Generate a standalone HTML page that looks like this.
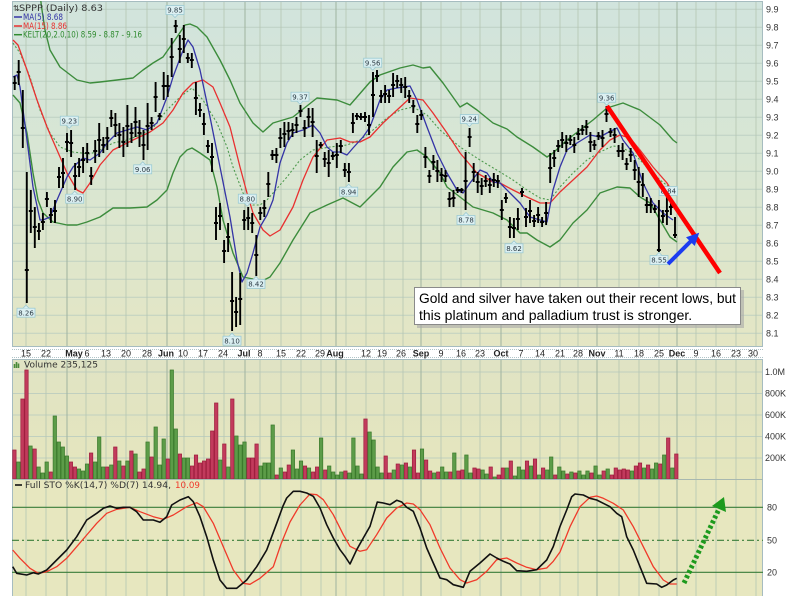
<!DOCTYPE html>
<html><head><meta charset="utf-8"><style>html,body{margin:0;padding:0;background:#fff}svg{display:block}</style></head>
<body>
<svg width="800" height="596" viewBox="0 0 800 596" xmlns="http://www.w3.org/2000/svg">
<defs>
<linearGradient id="gp" x1="0" y1="0" x2="0" y2="1"><stop offset="0" stop-color="#d1e4dd"/><stop offset="0.5" stop-color="#d9e6d2"/><stop offset="1" stop-color="#e4e6c4"/></linearGradient>
<linearGradient id="gv" x1="0" y1="0" x2="0" y2="1"><stop offset="0" stop-color="#e0e3c4"/><stop offset="1" stop-color="#e5e6bd"/></linearGradient>
<clipPath id="cp"><rect x="12" y="1" width="751" height="346"/></clipPath>
</defs>
<rect width="800" height="596" fill="#fff"/>
<rect x="12" y="1" width="751" height="346" fill="url(#gp)"/>
<rect x="12" y="359" width="751" height="121" fill="url(#gv)"/>
<rect x="12" y="480" width="751" height="116" fill="#e7e7bf"/>
<!-- horizontal gridlines price -->
<g stroke="#b8cbbf" stroke-width="1" opacity="0.8">
<path d="M12 9.3H763M12 27.3H763M12 45.3H763M12 63.3H763M12 81.3H763M12 99.3H763M12 117.3H763M12 135.3H763M12 153.3H763M12 171.3H763M12 189.3H763M12 207.3H763M12 225.3H763M12 243.3H763M12 261.3H763M12 279.3H763M12 297.3H763M12 315.3H763M12 333.3H763"/>
<path d="M12 372H763M12 393.5H763M12 415H763M12 436.5H763M12 458H763"/>
</g>
<!-- vertical gridlines -->
<g stroke="#b5c6b2" stroke-width="1" opacity="0.8">
<path d="M26 1V347M46 1V347M86 1V347M106 1V347M126 1V347M147 1V347M184 1V347M204 1V347M224 1V347M260 1V347M281 1V347M301 1V347M321 1V347M346 1V347M366 1V347M384 1V347M403 1V347M441 1V347M461 1V347M480 1V347M521 1V347M540 1V347M560 1V347M578 1V347M619 1V347M639 1V347M659 1V347M696 1V347M716 1V347M736 1V347M756 1V347"/>
<path d="M26 359V596M46 359V596M86 359V596M106 359V596M126 359V596M147 359V596M184 359V596M204 359V596M224 359V596M260 359V596M281 359V596M301 359V596M321 359V596M346 359V596M366 359V596M384 359V596M403 359V596M441 359V596M461 359V596M480 359V596M521 359V596M540 359V596M560 359V596M578 359V596M619 359V596M639 359V596M659 359V596M696 359V596M716 359V596M736 359V596M756 359V596"/>
</g>
<g stroke="#9fb39f" stroke-width="1">
<path d="M67 1V347M167 1V347M245 1V347M336 1V347M421 1V347M501 1V347M597 1V347M677 1V347"/>
<path d="M67 359V596M167 359V596M245 359V596M336 359V596M421 359V596M501 359V596M597 359V596M677 359V596"/>
</g>
<!-- panel borders -->
<g fill="none" stroke="#a6bcc0" stroke-width="1">
<rect x="12.5" y="1.5" width="750" height="345"/>
<rect x="12.5" y="359.5" width="750" height="120"/>
<path d="M12.5 480V596M762.5 480V596"/>
</g>
<path d="M12 349.5H763M12 357.5H763" stroke="#b0c4c8" stroke-dasharray="1,1"/>

<!-- price series -->
<g clip-path="url(#cp)" fill="none" stroke-linejoin="round">
<polyline stroke="#3c8c3c" stroke-width="1.4" points="40,-5 42,10 45,30 50,50 60,67 77,80 90,83 100,82 117,80 133,78 143,70 153,63 163,57 170,47 177,37 185,25 190,24 197,27 207,37 220,60 230,80 240,103 253,123 263,132 273,123 293,117 317,98 337,100 350,105 357,97 370,82 380,75 400,68 413,65 423,68 430,67 443,83 460,107 467,103 477,110 493,123 507,129 517,137 533,147 547,157 553,153 567,140 580,130 593,120 607,108 623,103 640,110 660,125 673,140 677,143"/>
<polyline stroke="#3c8c3c" stroke-width="1.4" points="13,95 20,103 27,133 33,173 38,200 43,213 53,222 67,225 77,225 87,222 100,217 113,208 130,208 147,207 157,200 167,190 173,173 180,157 187,150 192,148 200,153 210,160 217,187 223,220 233,253 243,277 253,279 262,281 270,277 280,263 293,240 310,213 327,205 343,198 360,207 367,200 380,187 393,167 407,152 417,150 427,157 440,173 447,187 460,197 473,207 493,213 507,220 520,233 527,233 537,240 550,247 560,240 573,223 587,210 600,193 617,187 630,188 640,197 650,203 660,220 670,237 677,242"/>
<polyline stroke="#4f9a4f" stroke-width="1.1" stroke-dasharray="2,2" points="13,43 20,53 30,77 40,110 50,133 60,147 73,152 90,154 100,150 113,143 127,140 140,135 153,128 167,110 180,97 192,88 203,100 217,123 227,147 233,167 243,193 253,205 260,205 267,200 273,193 287,177 300,160 313,150 330,147 347,145 360,140 373,130 387,118 400,110 413,107 427,115 440,130 460,147 480,160 500,172 513,180 527,190 540,198 550,200 560,187 573,173 587,160 600,152 613,146 620,147 633,153 647,167 660,180 673,190"/>
<polyline stroke="#e83030" stroke-width="1.3" points="13,40 18,45 27,70 37,100 47,127 57,150 67,173 77,190 83,193 90,183 100,165 113,150 133,140 150,132 163,123 173,110 183,93 193,83 203,80 213,87 220,103 230,127 240,167 247,193 253,213 263,230 270,236 280,230 293,207 303,180 313,157 327,140 340,138 350,142 360,142 370,137 383,123 397,110 410,98 423,100 433,113 447,133 460,153 477,173 493,182 500,183 513,190 527,197 540,203 550,203 560,192 573,180 587,167 600,150 610,140 620,135 630,138 640,150 653,167 667,183 673,193"/>
<polyline stroke="#3434a6" stroke-width="1.3" points="13,77 17,75 20,87 27,140 33,187 40,220 43,220 50,217 57,200 67,177 73,167 83,158 90,160 100,153 107,143 117,133 127,130 137,127 147,130 157,123 167,97 173,77 182,53 188,40 193,47 200,70 210,117 220,167 230,217 237,260 242,282 247,273 253,253 260,227 267,215 273,200 280,163 287,143 293,133 303,130 313,125 320,133 327,147 333,152 340,152 347,155 353,148 363,137 370,127 380,100 387,90 397,88 410,86 417,100 427,127 437,153 447,173 457,190 463,193 470,183 480,170 487,173 493,182 500,183 510,193 520,203 530,217 540,220 547,222 553,190 560,167 567,150 577,143 590,135 600,137 607,133 617,128 623,140 633,153 643,183 653,203 663,213 673,220"/>
<path stroke="#000" stroke-width="1.9" d="M14.7 76V90M12.7 83h4M18.7 60V85M16.7 72h4M22.8 90V148M20.8 128h4M26.8 172V303M24.8 270h4M30.8 190V233M28.8 211h4M34.8 207V248M32.8 227h4M38.9 223V240M36.9 231h4M42.9 213V230M40.9 222h4M46.9 192V207M44.9 199h4M50.9 208V223M48.9 215h4M55 200V223M53 211h4M59 167V188M57 177h4M63 158V188M61 173h4M67 133V152M65 142h4M71.1 130V157M69.1 143h4M75.1 163V190M73.1 176h4M79.1 158V177M77.1 167h4M83.1 147V173M81.1 160h4M87.2 143V163M85.2 153h4M91.2 167V185M89.2 176h4M95.2 140V163M93.2 151h4M99.2 123V157M97.2 140h4M103.3 137V153M101.3 145h4M107.3 127V150M105.3 138h4M111.3 110V127M109.3 118h4M115.4 113V137M113.4 125h4M119.4 123V148M117.4 135h4M123.4 127V157M121.4 142h4M127.4 105V147M125.4 126h4M131.5 123V143M129.5 133h4M135.5 107V137M133.5 122h4M139.5 120V147M137.5 133h4M143.5 130V160M141.5 145h4M147.6 103V150M145.6 126h4M151.6 117V130M149.6 123h4M155.6 82V112M153.6 97h4M159.6 113V120M157.6 116h4M163.7 72V100M161.7 86h4M167.7 75V97M165.7 86h4M171.7 38V77M169.7 57h4M175.7 20V33M173.7 26h4M179.8 35V63M177.8 49h4M183.8 25V53M181.8 39h4M187.8 53V63M185.8 58h4M191.8 53V68M189.8 60h4M195.9 82V115M193.9 98h4M199.9 103V117M197.9 110h4M203.9 113V135M201.9 124h4M207.9 140V153M205.9 146h4M212 143V172M210 157h4M216 207V240M214 223h4M220 203V230M218 216h4M224.1 240V263M222.1 251h4M228.1 223V252M226.1 237h4M232.1 272V331M230.1 301h4M236.1 297V327M234.1 312h4M240.2 273V325M238.2 299h4M244.2 210V230M242.2 220h4M248.2 207V230M246.2 218h4M252.2 213V233M250.2 223h4M256.3 235V276M254.3 255h4M260.3 207V220M258.3 213h4M264.3 200V217M262.3 208h4M268.3 172V197M266.3 184h4M272.4 150V160M270.4 155h4M276.4 148V163M274.4 155h4M280.4 128V148M278.4 138h4M284.4 122V147M282.4 134h4M288.5 122V140M286.5 131h4M292.5 123V137M290.5 130h4M296.5 117V133M294.5 125h4M300.5 105V117M298.5 111h4M304.6 120V137M302.6 128h4M308.6 108V127M306.6 117h4M312.6 108V137M310.6 122h4M316.7 140V173M314.7 156h4M320.7 142V148M318.7 145h4M324.7 152V167M322.7 159h4M328.7 150V177M326.7 163h4M332.8 152V160M330.8 156h4M336.8 143V168M334.8 155h4M340.8 140V153M338.8 146h4M344.8 163V177M342.8 170h4M348.9 163V182M346.9 172h4M352.9 113V133M350.9 123h4M356.9 113V120M354.9 116h4M360.9 113V120M358.9 117h4M365 112V122M363 117h4M369 115V135M367 125h4M373 72V117M371 95h4M377 70V82M375 76h4M381.1 90V103M379.1 96h4M385.1 85V103M383.1 94h4M389.1 90V103M387.1 96h4M393.1 73V97M391.1 85h4M397.2 75V88M395.2 81h4M401.2 78V93M399.2 85h4M405.2 77V98M403.2 87h4M409.2 90V103M407.2 96h4M413.3 100V113M411.3 106h4M417.3 115V133M415.3 124h4M421.3 110V120M419.3 115h4M425.4 147V168M423.4 157h4M429.4 170V183M427.4 176h4M433.4 155V170M431.4 162h4M437.4 160V182M435.4 171h4M441.5 168V182M439.5 175h4M445.5 170V182M443.5 176h4M449.5 192V207M447.5 199h4M453.5 190V207M451.5 198h4M457.6 187V193M455.6 190h4M461.6 188V193M459.6 190h4M465.6 152V210M463.6 181h4M469.6 128V147M467.6 137h4M473.7 163V182M471.7 172h4M477.7 172V193M475.7 182h4M481.7 178V195M479.7 186h4M485.7 175V187M483.7 181h4M489.8 178V193M487.8 185h4M493.8 173V187M491.8 180h4M497.8 175V188M495.8 181h4M501.8 200V220M499.8 210h4M505.9 193V203M503.9 198h4M509.9 217V238M507.9 227h4M513.9 218V238M511.9 228h4M517.9 208V230M515.9 219h4M522 188V197M520 192h4M526 208V227M524 217h4M530 200V223M528 211h4M534.1 215V227M532.1 221h4M538.1 207V223M536.1 215h4M542.1 217V227M540.1 222h4M546.1 202V225M544.1 213h4M550.2 153V183M548.2 168h4M554.2 150V167M552.2 158h4M558.2 140V152M556.2 146h4M562.2 132V148M560.2 140h4M566.3 135V152M564.3 143h4M570.3 135V145M568.3 140h4M574.3 137V153M572.3 145h4M578.3 128V140M576.3 134h4M582.4 125V135M580.4 130h4M586.4 120V135M584.4 127h4M590.4 132V152M588.4 142h4M594.4 140V150M592.4 145h4M598.5 132V140M596.5 136h4M602.5 130V147M600.5 138h4M606.5 106V122M604.5 114h4M610.5 128V137M608.5 132h4M614.6 128V143M612.6 135h4M618.6 145V157M616.6 151h4M622.6 143V160M620.6 151h4M626.6 158V170M624.6 164h4M630.7 148V162M628.7 155h4M634.7 160V180M632.7 170h4M638.7 167V197M636.7 182h4M642.8 173V197M640.8 185h4M646.8 197V213M644.8 205h4M650.8 198V213M648.8 205h4M654.8 205V213M652.8 209h4M658.9 200V252M656.9 250h4M662.9 210V223M660.9 216h4M666.9 197V225M664.9 211h4M670.9 200V215M668.9 207h4M675 217V238M673 235h4"/>
</g>

<!-- price tags -->
<g font-family="'DejaVu Sans', 'Liberation Sans', sans-serif" font-size="7" fill="#2b3a44" text-anchor="middle">
<g fill="#dcf0f2" stroke="#9ccad3" stroke-width="0.8">
<rect x="166" y="5.5" width="18" height="9"/><path d="M172 14.5L175 17.5L178 14.5"/>
<rect x="60.3" y="116.2" width="18" height="9"/><path d="M66.3 125.2L69.3 128.2L72.3 125.2"/>
<rect x="65.7" y="194.2" width="18" height="9"/><path d="M71.7 194.2L74.7 191.2L77.7 194.2"/>
<rect x="133.7" y="164.8" width="18" height="9"/><path d="M139.7 164.8L142.7 161.8L145.7 164.8"/>
<rect x="17" y="308.2" width="18" height="9"/><path d="M23 308.2L26 305.2L29 308.2"/>
<rect x="238.3" y="194.2" width="18" height="9"/><path d="M244.3 203.2L247.3 206.2L250.3 203.2"/>
<rect x="247" y="279.5" width="18" height="9"/><path d="M253 279.5L256 276.5L259 279.5"/>
<rect x="223" y="336.2" width="18" height="9"/><path d="M229 336.2L232 333.2L235 336.2"/>
<rect x="291" y="92.2" width="18" height="9"/><path d="M297 101.2L300 104.2L303 101.2"/>
<rect x="363.7" y="58.2" width="18" height="9"/><path d="M369.7 67.2L372.7 70.2L375.7 67.2"/>
<rect x="339.7" y="187.2" width="18" height="9"/><path d="M345.7 187.2L348.7 184.2L351.7 187.2"/>
<rect x="460.3" y="114.5" width="18" height="9"/><path d="M466.3 123.5L469.3 126.5L472.3 123.5"/>
<rect x="457" y="215.5" width="18" height="9"/><path d="M463 215.5L466 212.5L469 215.5"/>
<rect x="505" y="243.8" width="18" height="9"/><path d="M511 243.8L514 240.8L517 243.8"/>
<rect x="597.7" y="93.2" width="18" height="9"/><path d="M603.7 102.2L606.7 105.2L609.7 102.2"/>
<rect x="659.3" y="186.5" width="18" height="9"/><path d="M665.3 195.5L668.3 198.5L671.3 195.5"/>
<rect x="650" y="255.5" width="18" height="9"/><path d="M656 255.5L659 252.5L662 255.5"/>
</g>
<text x="175" y="12.6">9.85</text>
<text x="69.3" y="123.3">9.23</text>
<text x="74.7" y="201.3">8.90</text>
<text x="142.7" y="171.9">9.06</text>
<text x="26" y="315.3">8.26</text>
<text x="247.3" y="201.3">8.80</text>
<text x="256" y="286.6">8.42</text>
<text x="232" y="343.3">8.10</text>
<text x="300" y="99.3">9.37</text>
<text x="372.7" y="65.3">9.56</text>
<text x="348.7" y="194.3">8.94</text>
<text x="469.3" y="121.6">9.24</text>
<text x="466" y="222.6">8.78</text>
<text x="514" y="250.9">8.62</text>
<text x="606.7" y="100.3">9.36</text>
<text x="668.3" y="193.6">8.84</text>
<text x="659" y="262.6">8.55</text>
</g>

<!-- annotations -->
<line x1="607" y1="106" x2="720" y2="273" stroke="#ff0000" stroke-width="4.5"/>
<line x1="668" y1="264" x2="691" y2="241" stroke="#1c3cf0" stroke-width="4"/>
<polygon points="698,234 694.4,244.6 687.4,237.6" fill="#1c3cf0" stroke="#1c3cf0" stroke-width="1.5"/>
<rect x="417" y="290" width="327" height="38" fill="#a9a9a9" opacity="0.6"/>
<rect x="414.5" y="287.5" width="326" height="37" fill="#fff" stroke="#8a8a8a" stroke-width="1"/>
<text x="419" y="303" font-family="'Liberation Sans', Arial, sans-serif" font-size="14" fill="#000" textLength="317" lengthAdjust="spacingAndGlyphs">Gold and silver have taken out their recent lows, but</text>
<text x="419" y="320" font-family="'Liberation Sans', Arial, sans-serif" font-size="14" fill="#000">this platinum and palladium trust is stronger.</text>

<!-- legend -->
<g font-family="'DejaVu Sans', 'Liberation Sans', sans-serif" font-size="8.5">
<text x="13" y="11" font-size="8" fill="#333">⇅</text>
<text x="19" y="11" fill="#333" textLength="84" lengthAdjust="spacingAndGlyphs">SPPP (Daily) 8.63</text>
<path d="M14 17H22" stroke="#3434a6" stroke-width="1.5"/>
<text x="23" y="20" fill="#3434a6" textLength="40" lengthAdjust="spacingAndGlyphs">MA(5) 8.68</text>
<path d="M14 26H22" stroke="#e83030" stroke-width="1.5"/>
<text x="23" y="29" fill="#e83030" textLength="44" lengthAdjust="spacingAndGlyphs">MA(15) 8.86</text>
<path d="M14 34.7H22" stroke="#2f8a2f" stroke-width="1.5"/>
<text x="23" y="37.7" fill="#2f8a2f" textLength="119" lengthAdjust="spacingAndGlyphs">KELT(20,2.0,10) 8.59 - 8.87 - 9.16</text>
</g>

<!-- right price axis -->
<g font-family="'Liberation Sans', Arial, sans-serif" font-size="9" fill="#333">
<text x="766" y="12.5">9.9</text><text x="766" y="30.5">9.8</text><text x="766" y="48.5">9.7</text><text x="766" y="66.5">9.6</text><text x="766" y="84.5">9.5</text><text x="766" y="102.5">9.4</text><text x="766" y="120.5">9.3</text><text x="766" y="138.5">9.2</text><text x="766" y="156.5">9.1</text><text x="766" y="174.5">9.0</text><text x="766" y="192.5">8.9</text><text x="766" y="210.5">8.8</text><text x="766" y="228.5">8.7</text><text x="766" y="246.5">8.6</text><text x="766" y="264.5">8.5</text><text x="766" y="282.5">8.4</text><text x="766" y="300.5">8.3</text><text x="766" y="318.5">8.2</text><text x="766" y="336.5">8.1</text>
<text x="765" y="375">1.0M</text><text x="765" y="396.5">800K</text><text x="765" y="418">600K</text><text x="765" y="439.5">400K</text><text x="765" y="461">200K</text>
<text x="767" y="510.5">80</text><text x="767" y="543.5">50</text><text x="767" y="575.5">20</text>
</g>

<!-- date axis -->
<g font-family="'Liberation Sans', Arial, sans-serif" font-size="9" fill="#222" text-anchor="middle">
<text x="26" y="356.5">15</text><text x="46" y="356.5">22</text><text x="74" y="356.5" font-weight="bold">May</text><text x="87" y="356.5">6</text><text x="106" y="356.5">13</text><text x="126" y="356.5">20</text><text x="147" y="356.5">28</text><text x="166" y="356.5" font-weight="bold">Jun</text><text x="183" y="356.5">10</text><text x="203" y="356.5">17</text><text x="223" y="356.5">24</text><text x="244" y="356.5" font-weight="bold">Jul</text><text x="260" y="356.5">8</text><text x="281" y="356.5">15</text><text x="301" y="356.5">22</text><text x="320" y="356.5">29</text><text x="335" y="356.5" font-weight="bold">Aug</text><text x="366" y="356.5">12</text><text x="382" y="356.5">19</text><text x="401" y="356.5">26</text><text x="421" y="356.5" font-weight="bold">Sep</text><text x="441" y="356.5">9</text><text x="461" y="356.5">16</text><text x="480" y="356.5">23</text><text x="501" y="356.5" font-weight="bold">Oct</text><text x="521" y="356.5">7</text><text x="540" y="356.5">14</text><text x="560" y="356.5">21</text><text x="578" y="356.5">28</text><text x="597" y="356.5" font-weight="bold">Nov</text><text x="619" y="356.5">11</text><text x="639" y="356.5">18</text><text x="659" y="356.5">25</text><text x="677" y="356.5" font-weight="bold">Dec</text><text x="696" y="356.5">9</text><text x="716" y="356.5">16</text><text x="736" y="356.5">23</text><text x="753" y="356.5">30</text>
</g>

<!-- volume -->
<path fill="#c23a5c" stroke="#9e1f3e" stroke-width="0.7" d="M12.7 479V450h3.4V479zM20.8 479V399h3.4V479zM24.8 479V370h3.4V479zM32.9 479V449h3.4V479zM49 479V472h3.4V479zM69.2 479V462h3.4V479zM73.2 479V467h3.4V479zM89.4 479V453h3.4V479zM105.5 479V467h3.4V479zM113.6 479V447h3.4V479zM121.7 479V466h3.4V479zM129.7 479V451h3.4V479zM137.8 479V472h3.4V479zM141.9 479V469h3.4V479zM149.9 479V457h3.4V479zM166.1 479V459h3.4V479zM178.2 479V454h3.4V479zM190.3 479V466h3.4V479zM194.3 479V455h3.4V479zM198.4 479V463h3.4V479zM202.4 479V461h3.4V479zM206.4 479V459h3.4V479zM210.5 479V431h3.4V479zM214.5 479V403h3.4V479zM222.6 479V444h3.4V479zM230.6 479V399h3.4V479zM246.8 479V458h3.4V479zM250.8 479V458h3.4V479zM254.9 479V444h3.4V479zM275 479V475h3.4V479zM283.1 479V472h3.4V479zM287.1 479V465h3.4V479zM303.3 479V466h3.4V479zM311.4 479V472h3.4V479zM315.4 479V467h3.4V479zM323.5 479V470h3.4V479zM343.7 479V471h3.4V479zM363.8 479V419h3.4V479zM384 479V456h3.4V479zM388 479V473h3.4V479zM396.1 479V464h3.4V479zM404.2 479V463h3.4V479zM412.3 479V450h3.4V479zM416.3 479V473h3.4V479zM424.4 479V460h3.4V479zM428.4 479V471h3.4V479zM436.5 479V472h3.4V479zM448.6 479V472h3.4V479zM456.7 479V471h3.4V479zM460.7 479V470h3.4V479zM472.8 479V468h3.4V479zM476.8 479V469h3.4V479zM489 479V467h3.4V479zM497 479V475h3.4V479zM501.1 479V468h3.4V479zM509.1 479V461h3.4V479zM525.3 479V461h3.4V479zM533.3 479V459h3.4V479zM541.4 479V468h3.4V479zM553.5 479V475h3.4V479zM565.6 479V474h3.4V479zM573.7 479V473h3.4V479zM589.8 479V473h3.4V479zM602 479V471h3.4V479zM610 479V475h3.4V479zM614.1 479V468h3.4V479zM618.1 479V470h3.4V479zM622.1 479V469h3.4V479zM626.2 479V470h3.4V479zM634.2 479V466h3.4V479zM638.3 479V463h3.4V479zM646.4 479V465h3.4V479zM658.5 479V464h3.4V479zM666.5 479V438h3.4V479zM674.6 479V454h3.4V479z"/>
<path fill="#5c9c48" stroke="#3b7a2c" stroke-width="0.7" d="M16.7 479V462h3.4V479zM28.8 479V446h3.4V479zM36.9 479V467h3.4V479zM41 479V473h3.4V479zM45 479V462h3.4V479zM53.1 479V416h3.4V479zM57.1 479V442h3.4V479zM61.1 479V447h3.4V479zM65.2 479V456h3.4V479zM77.3 479V469h3.4V479zM81.3 479V471h3.4V479zM85.3 479V464h3.4V479zM93.4 479V462h3.4V479zM97.5 479V437h3.4V479zM101.5 479V467h3.4V479zM109.6 479V465h3.4V479zM117.6 479V461h3.4V479zM125.7 479V461h3.4V479zM133.8 479V454h3.4V479zM145.9 479V442h3.4V479zM154 479V427h3.4V479zM158 479V465h3.4V479zM162 479V439h3.4V479zM170.1 479V370h3.4V479zM174.1 479V429h3.4V479zM182.2 479V458h3.4V479zM186.2 479V458h3.4V479zM218.5 479V460h3.4V479zM226.6 479V467h3.4V479zM234.7 479V436h3.4V479zM238.7 479V445h3.4V479zM242.8 479V442h3.4V479zM258.9 479V466h3.4V479zM262.9 479V463h3.4V479zM267 479V463h3.4V479zM271 479V425h3.4V479zM279.1 479V468h3.4V479zM291.2 479V450h3.4V479zM295.2 479V469h3.4V479zM299.3 479V461h3.4V479zM307.3 479V468h3.4V479zM319.4 479V438h3.4V479zM327.5 479V466h3.4V479zM331.5 479V472h3.4V479zM335.6 479V475h3.4V479zM339.6 479V472h3.4V479zM347.7 479V473h3.4V479zM351.7 479V438h3.4V479zM355.8 479V466h3.4V479zM359.8 479V474h3.4V479zM367.9 479V432h3.4V479zM371.9 479V440h3.4V479zM375.9 479V467h3.4V479zM380 479V473h3.4V479zM392.1 479V470h3.4V479zM400.2 479V465h3.4V479zM408.2 479V467h3.4V479zM420.3 479V449h3.4V479zM432.4 479V473h3.4V479zM440.5 479V467h3.4V479zM444.6 479V472h3.4V479zM452.6 479V453h3.4V479zM464.7 479V455h3.4V479zM468.8 479V473h3.4V479zM480.9 479V470h3.4V479zM484.9 479V474h3.4V479zM493 479V477h3.4V479zM505.1 479V468h3.4V479zM513.2 479V476h3.4V479zM517.2 479V467h3.4V479zM521.2 479V470h3.4V479zM529.3 479V466h3.4V479zM537.4 479V475h3.4V479zM545.5 479V470h3.4V479zM549.5 479V457h3.4V479zM557.6 479V467h3.4V479zM561.6 479V471h3.4V479zM569.7 479V472h3.4V479zM577.7 479V471h3.4V479zM581.8 479V475h3.4V479zM585.8 479V471h3.4V479zM593.9 479V466h3.4V479zM597.9 479V475h3.4V479zM606 479V469h3.4V479zM630.2 479V471h3.4V479zM642.3 479V468h3.4V479zM650.4 479V469h3.4V479zM654.4 479V463h3.4V479zM662.5 479V455h3.4V479zM670.6 479V468h3.4V479z"/>
<path d="M12 479.5H763" stroke="#a8b8b0" stroke-width="1"/>
<g font-family="'DejaVu Sans', 'Liberation Sans', sans-serif" font-size="8.5" fill="#333">
<path d="M14.5 368V364M16.5 368V362M18.5 368V363.5" stroke="#4a8a3a" stroke-width="1.6"/>
<text x="24" y="367.5" textLength="74" lengthAdjust="spacingAndGlyphs">Volume 235,125</text>
</g>

<!-- stochastic -->
<path d="M12 507.3H763M12 572.3H763" stroke="#3a7e3a" stroke-width="1.2"/>
<path d="M12 540.3H763" stroke="#3a7e3a" stroke-width="1.2" stroke-dasharray="7,3,2,3"/>
<polyline fill="none" stroke="#f03a2a" stroke-width="1.3" stroke-linejoin="round" points="12.7,550 20,558.3 30,568.3 38.3,573.3 46.7,571.7 56.7,566.7 66.7,558.3 76.7,546.7 86.7,535 96.7,523.3 106.7,513.3 116.7,509.3 130,507.3 140,511.7 153.3,516.7 163.3,519.3 173.3,515 186.7,506.7 196.7,502.7 203.3,506.7 213.3,523.3 223.3,546.7 233.3,570 243.3,583.3 250,584.3 260,578.3 273.3,566.7 281,544 290,522 300,505 310,494 316.7,494.7 323.3,499.7 333.3,514.7 343.3,534.7 350,546.3 360,551.3 366.7,549.7 376.7,534.7 386.7,518 396.7,508 406.7,503 413.3,504 420,509.7 430,524.7 440,548 450,568 460,579.7 466.7,583 476.7,579.7 486.7,571.3 496.7,559.7 506.7,558 516.7,563 526.7,567.3 536.7,569.7 546.7,568 553.3,561.3 560,552 570,526.7 580,506.7 590,497.3 596.7,496 603.3,498.3 613.3,503.3 623.3,510 633.3,526.7 643.3,546.7 653.3,566.7 663.3,580 670,584 676.7,584"/>
<polyline fill="none" stroke="#111" stroke-width="1.6" stroke-linejoin="round" points="12.7,566.7 16.7,573.3 26.7,575 33.3,572.7 38.3,574 46.7,570 56.7,560 66.7,550 76.7,536.7 86.7,520 96.7,513.3 103.3,508.3 110,506 116.7,508.3 123.3,507.3 130,507.3 136.7,511.7 143.3,520 153.3,520 160,522.3 166.7,516.7 171.7,505 180,500 188.3,496.7 193.3,501.7 200,516.7 206.7,536.7 213.3,560 220,580 226.7,588.3 236.7,588.3 246.7,580 256.7,566.7 266.7,550 276.7,523.3 283,506 286.7,498 293.3,491.3 300,491.3 306.7,493 313.3,496.3 320,508 326.7,524.7 333.3,538 340,549.7 345,556.3 350,564 356.7,549.7 363.3,538 370,526.3 377.3,502 383.3,503 390,504.7 396.7,500.3 401.7,502 406.7,507.3 413.3,511.3 420,528 426.7,548 433.3,563 440,578 446.7,579.7 453.3,584.7 463.3,587.3 470,571.3 480,563 490,554 496.7,558 503.3,561.3 510,564 516.7,570.7 526.7,571.3 536.7,569.7 546.7,560 553.3,546.5 560,526.5 566.7,510 571.7,496.7 575,494 583.3,495 590,498.3 596.7,500 603.3,503.3 610,506.7 616.7,513.3 621.7,516.7 626.7,536.7 633.3,550 640,566.7 646.7,583.3 656.7,584 661.7,587.3 666.7,585 673.3,580 676.7,578.3"/>
<line x1="684" y1="583" x2="718.5" y2="510" stroke="#1d9a1d" stroke-width="5" stroke-dasharray="3,2.5"/>
<polygon points="724,497 726,512 712,506" fill="#1d9a1d"/>
<g font-family="'DejaVu Sans', 'Liberation Sans', sans-serif" font-size="8.5">
<path d="M15 485H22" stroke="#111" stroke-width="1.6"/>
<text x="25" y="488" fill="#333" textLength="146" lengthAdjust="spacingAndGlyphs">Full STO %K(14,7) %D(7) 14.94,</text>
<text x="175" y="488" fill="#f03a2a" textLength="25" lengthAdjust="spacingAndGlyphs">10.09</text>
</g>
</svg>
</body></html>
